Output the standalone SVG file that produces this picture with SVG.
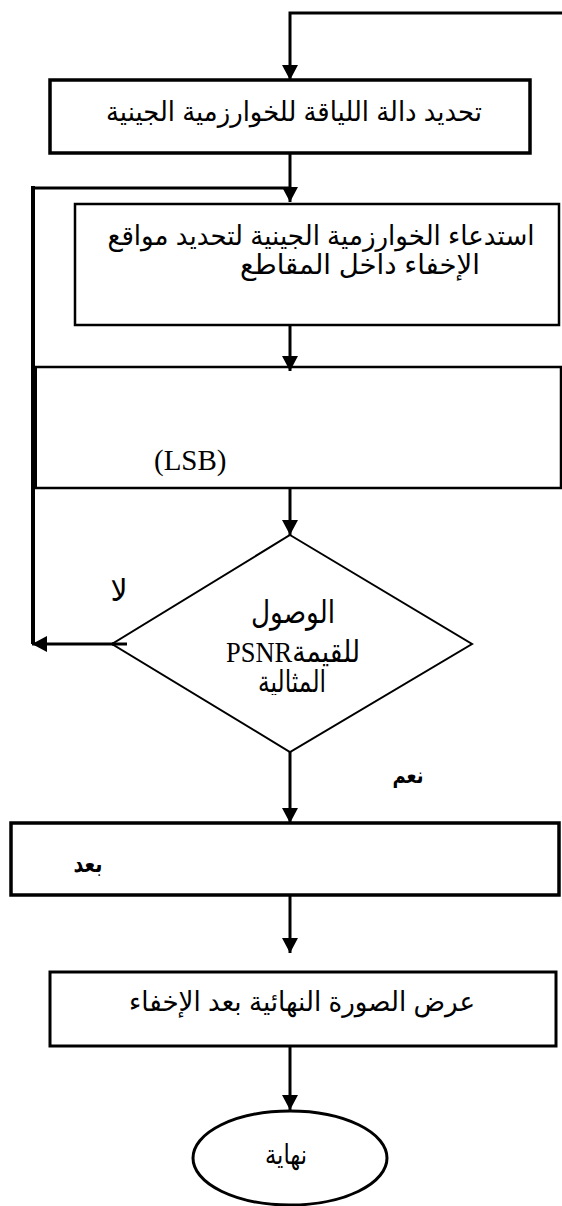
<svg xmlns="http://www.w3.org/2000/svg" width="562" height="1206" viewBox="0 0 562 1206">
  <defs>
    <marker id="arrow" markerUnits="userSpaceOnUse" markerWidth="16" markerHeight="16" refX="15" refY="8" orient="auto">
      <path d="M0,0 L15,8 L0,16 z" fill="#000"/>
    </marker>
    <clipPath id="diamondTextClip">
      <rect x="100" y="540" width="380" height="155"/>
    </clipPath>
    <style>
      .box { fill: #fff; stroke: #000; }
      .thick { stroke-width: 3.5; }
      .mid { stroke-width: 2.5; }
      .line { fill: none; stroke: #000; stroke-width: 3; }
      .sans { font-family: "Liberation Sans", "DejaVu Sans", sans-serif; fill: #000; }
      .serif { font-family: "Liberation Serif", "DejaVu Sans", serif; fill: #000; }
    </style>
  </defs>

  <rect width="562" height="1206" fill="#fff"/>

  <!-- connectors -->
  <g id="connectors">
    <path class="line" d="M562,13 H290 V80" marker-end="url(#arrow)"/>
    <path class="line" d="M290,153 V202" marker-end="url(#arrow)"/>
    <path class="line" d="M33,188 H290"/>
    <path class="line" d="M33,186 V644" style="stroke-width:4"/>
    <path class="line" d="M290,325 V371" marker-end="url(#arrow)"/>
    <path class="line" d="M290,488 V535" marker-end="url(#arrow)"/>
    <path class="line" d="M127,644 H32" marker-end="url(#arrow)"/>
    <path class="line" d="M290,752 V823" marker-end="url(#arrow)"/>
    <path class="line" d="M290,895 V953" marker-end="url(#arrow)"/>
    <path class="line" d="M290,1046 V1110" marker-end="url(#arrow)"/>
  </g>

  <!-- fitness function -->
  <g id="node-fitness">
    <rect class="box thick" x="50" y="80" width="480" height="73"/>
    <text class="sans" x="294" y="121" font-size="27" text-anchor="middle" textLength="376" lengthAdjust="spacingAndGlyphs">تحديد دالة اللياقة للخوارزمية الجينية</text>
  </g>

  <!-- call genetic algorithm -->
  <g id="node-ga">
    <rect class="box mid" x="75" y="204" width="484" height="121"/>
    <text class="sans" x="321" y="245" font-size="27" text-anchor="middle" textLength="427" lengthAdjust="spacingAndGlyphs">استدعاء الخوارزمية الجينية لتحديد مواقع</text>
    <text class="sans" x="360" y="274" font-size="27" text-anchor="middle" textLength="240" lengthAdjust="spacingAndGlyphs">الإخفاء داخل المقاطع</text>
  </g>

  <!-- LSB embedding -->
  <g id="node-lsb">
    <path d="M33,367 H561 V488 H33" fill="none" stroke="#000" stroke-width="2.5"/>
    <path d="M35,367 V488" fill="none" stroke="#000" stroke-width="4"/>
    <text class="serif" x="154" y="470" font-size="29">(LSB)</text>
  </g>

  <!-- PSNR decision -->
  <g id="node-decision">
    <polygon points="290,535 472,644 290,752 112,644" fill="#fff" stroke="#000" stroke-width="2"/>
    <path class="line" d="M127,644 H112"/>
    <g clip-path="url(#diamondTextClip)">
      <text class="serif" x="293" y="623" font-size="32" text-anchor="middle" textLength="84" lengthAdjust="spacingAndGlyphs">الوصول</text>
      <text class="serif" x="293" y="662" font-size="30" text-anchor="middle" direction="rtl" textLength="134" lengthAdjust="spacingAndGlyphs">للقيمةPSNR</text>
      <text class="serif" x="292" y="692" font-size="30" text-anchor="middle" textLength="68" lengthAdjust="spacingAndGlyphs">المثالية</text>
    </g>
    <text class="serif" x="119" y="601" font-size="30" text-anchor="middle">لا</text>
    <text class="sans" x="408" y="783" font-size="22" font-weight="bold" text-anchor="middle" textLength="31" lengthAdjust="spacingAndGlyphs">نعم</text>
  </g>

  <!-- after embedding -->
  <g id="node-after">
    <rect class="box thick" x="11" y="823" width="548" height="72"/>
    <text class="sans" x="88" y="872" font-size="24" font-weight="bold" text-anchor="middle" textLength="29" lengthAdjust="spacingAndGlyphs">بعد</text>
  </g>

  <!-- show final image -->
  <g id="node-result">
    <rect class="box" stroke-width="3" x="50" y="972" width="506" height="74"/>
    <text class="sans" x="302" y="1011" font-size="27" text-anchor="middle" textLength="346" lengthAdjust="spacingAndGlyphs">عرض الصورة النهائية بعد الإخفاء</text>
  </g>

  <!-- end -->
  <g id="node-end">
    <ellipse class="box" stroke-width="3" cx="290" cy="1158" rx="97" ry="47"/>
    <text class="sans" x="286" y="1164" font-size="27" text-anchor="middle" textLength="42" lengthAdjust="spacingAndGlyphs">نهاية</text>
  </g>
</svg>
